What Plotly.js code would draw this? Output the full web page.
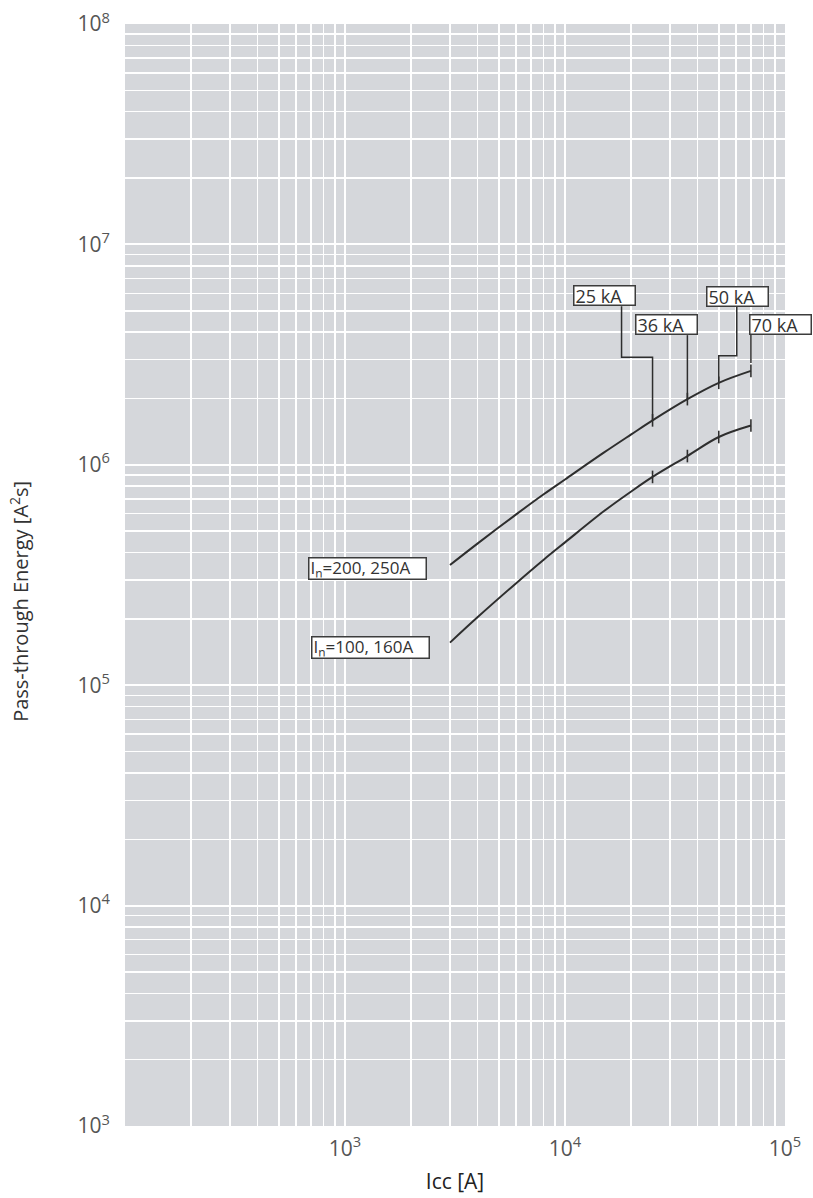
<!DOCTYPE html>
<html>
<head>
<meta charset="utf-8">
<script src="https://cdn.plot.ly/plotly-3.0.1.min.js"></script>
<style>html,body{margin:0;padding:0;background:#fff;}#chart{width:813px;height:1198px;}</style>
</head>
<body>
<div id="chart"></div>
<script>
// Prospective short-circuit current Icc [A]
const icc = [3000, 4000, 6000, 8000, 10000, 15000, 20000, 25000, 36000, 50000, 70000];
// Pass-through energy I²t [A²s], In = 200, 250 A
const energy200_250 = [3.51e5, 4.39e5, 5.96e5, 7.35e5, 8.58e5, 1.135e6, 1.374e6, 1.591e6, 1.986e6, 2.355e6, 2.667e6];
// Pass-through energy I²t [A²s], In = 100, 160 A
const energy100_160 = [1.56e5, 2.032e5, 2.904e5, 3.71e5, 4.446e5, 6.152e5, 7.568e5, 8.81e5, 1.096e6, 1.337e6, 1.507e6];
// Breaking capacities [kA]
const breakingKA = [25, 36, 50, 70];
const breakingLabels = ["25 kA", "36 kA", "50 kA", "70 kA"];
const seriesLabels = ["I<sub>n</sub>=200, 250A", "I<sub>n</sub>=100, 160A"];
// tick labels
const xTickVals = [1e3, 1e4, 1e5];
const xTickText = ["10<sup>3</sup>", "10<sup>4</sup>", "10<sup>5</sup>"];
const yTickVals = [1e3, 1e4, 1e5, 1e6, 1e7, 1e8];
const yTickText = ["10<sup>3</sup>", "10<sup>4</sup>", "10<sup>5</sup>", "10<sup>6</sup>", "10<sup>7</sup>", "10<sup>8</sup>"];

const FONT = "Open Sans, Noto Sans, sans-serif";
const LINE = "#2e2e2e";

const kAx = breakingKA.map(k => k * 1000);
const pick = (arr) => kAx.map(x => arr[icc.indexOf(x)]);
const upAtKA = pick(energy200_250);
const loAtKA = pick(energy100_160);

const traces = [
  {x: icc, y: energy200_250, mode: "lines", line: {color: LINE, width: 2, shape: "spline", smoothing: 1}, hoverinfo: "x+y", name: "In=200, 250A"},
  {x: icc, y: energy100_160, mode: "lines", line: {color: LINE, width: 2, shape: "spline", smoothing: 1}, hoverinfo: "x+y", name: "In=100, 160A"},
  {x: kAx.concat(kAx), y: upAtKA.concat(loAtKA), mode: "markers",
   marker: {symbol: "line-ns", size: 9, line: {color: LINE, width: 1.6}}, hoverinfo: "x+y", name: "ticks"}
];

// label box placement relative to each breaking-capacity point (pixels)
const boxShift = [[-80, 114], [-52, 64], [-13, 76], [-2, 36]];
const leaderPaths = ["M0,0 V63 H-31 V114", "M0,0 V64", "M0,0 V27 H18 V76", "M0,8 V36"];

const annotations = [];
const shapes = [];
breakingKA.forEach((k, i) => {
  annotations.push({
    x: Math.log10(kAx[i]), y: Math.log10(upAtKA[i]), xref: "x", yref: "y",
    text: breakingLabels[i], showarrow: false, xanchor: "left", yanchor: "bottom",
    xshift: boxShift[i][0], yshift: boxShift[i][1],
    width: 58, height: 16, align: "left", valign: "middle",
    bgcolor: "#ffffff", bordercolor: "#3c3c3c", borderwidth: 1.5, borderpad: 1,
    font: {family: FONT, size: 18, color: "#333"}
  });
  shapes.push({
    type: "path", xref: "x", yref: "y", xsizemode: "pixel", ysizemode: "pixel",
    xanchor: kAx[i], yanchor: upAtKA[i], path: leaderPaths[i],
    line: {color: LINE, width: 1.5}
  });
});

const seriesStart = [[energy200_250[0], -23, -3], [energy100_160[0], -20, -5]];
seriesLabels.forEach((t, i) => {
  annotations.push({
    x: Math.log10(icc[0]), y: Math.log10(seriesStart[i][0]), xref: "x", yref: "y",
    text: t, showarrow: false, xanchor: "right", yanchor: "middle",
    xshift: seriesStart[i][1], yshift: seriesStart[i][2],
    width: 114, height: 18, align: "left", valign: "middle",
    bgcolor: "#ffffff", bordercolor: "#3c3c3c", borderwidth: 1.5, borderpad: 1,
    font: {family: FONT, size: 17, color: "#333"}
  });
});

annotations.push({
  xref: "paper", yref: "paper", x: -0.16, y: 0.476, xanchor: "center", yanchor: "middle",
  text: "Pass-through Energy [A<sup>2</sup>s]", textangle: -90, showarrow: false,
  font: {family: FONT, size: 20, color: "#333"}
});

const gridMinor = {dtick: "D1", showgrid: true, gridcolor: "#ffffff", gridwidth: 1.5, ticks: ""};

const layout = {
  width: 813, height: 1198,
  margin: {l: 125, r: 28, t: 24, b: 72},
  paper_bgcolor: "#ffffff", plot_bgcolor: "#d5d7db",
  showlegend: false,
  font: {family: FONT, color: "#555"},
  xaxis: {
    type: "log", range: [2, 5], tickmode: "array", tickvals: xTickVals, ticktext: xTickText,
    showgrid: true, gridcolor: "#ffffff", gridwidth: 2, showline: false, zeroline: false,
    ticks: "", ticklabelstandoff: 8,
    tickfont: {family: FONT, size: 21, color: "#555"},
    minor: gridMinor,
    title: {text: "Icc [A]", font: {family: FONT, size: 21, color: "#222"}, standoff: 13}
  },
  yaxis: {
    type: "log", range: [3, 8], tickmode: "array", tickvals: yTickVals, ticktext: yTickText,
    showgrid: true, gridcolor: "#ffffff", gridwidth: 2, showline: false, zeroline: false,
    ticks: "", ticklabelstandoff: 14,
    tickfont: {family: FONT, size: 21, color: "#555"},
    minor: gridMinor
  },
  annotations: annotations,
  shapes: shapes
};

Plotly.newPlot("chart", traces, layout, {displayModeBar: false, staticPlot: true});
</script>
</body>
</html>
